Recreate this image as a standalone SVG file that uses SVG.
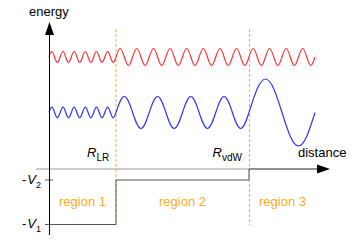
<svg xmlns="http://www.w3.org/2000/svg" width="360" height="252" viewBox="0 0 360 252">
<style>
text{font-family:"Liberation Sans",Arial,sans-serif;font-size:13px;fill:#000}
.reg{fill:#ffaa22;text-anchor:middle}
.it{font-style:italic}
.wave{fill:none;stroke-width:1.2}
.dash{stroke:#ffaa33;stroke-width:1;stroke-dasharray:3,2;fill:none}
</style>
<rect width="360" height="252" fill="#fff"/>
<g id="boundaries">
<line class="dash" x1="116" y1="29" x2="116" y2="225"/>
<line class="dash" x1="249.5" y1="29" x2="249.5" y2="225"/>
</g>
<g id="red-wave">
<path class="wave" stroke="#ff3333" d="M49,57
c.91,-2.82 1.78,-5.5 2.792,-5.5 c1.01,0 1.88,2.68 2.792,5.5 c.91,2.82 1.78,5.5 2.792,5.5 c1.01,0 1.88,-2.68 2.792,-5.5
c.91,-2.82 1.78,-5.5 2.792,-5.5 c1.01,0 1.88,2.68 2.792,5.5 c.91,2.82 1.78,5.5 2.792,5.5 c1.01,0 1.88,-2.68 2.792,-5.5
c.91,-2.82 1.78,-5.5 2.792,-5.5 c1.01,0 1.88,2.68 2.792,5.5 c.91,2.82 1.78,5.5 2.792,5.5 c1.01,0 1.88,-2.68 2.792,-5.5
c.91,-2.82 1.78,-5.5 2.792,-5.5 c1.01,0 1.88,2.68 2.792,5.5 c.91,2.82 1.78,5.5 2.792,5.5 c1.01,0 1.88,-2.68 2.792,-5.5
c.91,-2.82 1.78,-5.5 2.792,-5.5 c1.01,0 1.88,2.68 2.792,5.5 c.91,2.82 1.78,5.5 2.792,5.5 c1.01,0 1.88,-2.68 2.792,-5.5
c.91,-2.82 1.78,-5.5 2.792,-5.5 c1.01,0 1.88,2.68 2.792,5.5 c.91,2.82 1.78,5.5 2.792,5.5 c1.01,0 1.88,-2.68 2.792,-5.5
M116,57
c1.355,-4.355 2.652,-8.5 4.156,-8.5 c1.504,0 2.801,4.145 4.156,8.5 c1.355,4.355 2.652,8.5 4.156,8.5 c1.504,0 2.801,-4.145 4.156,-8.5
c1.355,-4.355 2.652,-8.5 4.156,-8.5 c1.504,0 2.801,4.145 4.156,8.5 c1.355,4.355 2.652,8.5 4.156,8.5 c1.504,0 2.801,-4.145 4.156,-8.5
c1.355,-4.355 2.652,-8.5 4.156,-8.5 c1.504,0 2.801,4.145 4.156,8.5 c1.355,4.355 2.652,8.5 4.156,8.5 c1.504,0 2.801,-4.145 4.156,-8.5
c1.355,-4.355 2.652,-8.5 4.156,-8.5 c1.504,0 2.801,4.145 4.156,8.5 c1.355,4.355 2.652,8.5 4.156,8.5 c1.504,0 2.801,-4.145 4.156,-8.5
c1.355,-4.355 2.652,-8.5 4.156,-8.5 c1.504,0 2.801,4.145 4.156,8.5 c1.355,4.355 2.652,8.5 4.156,8.5 c1.504,0 2.801,-4.145 4.156,-8.5
c1.355,-4.355 2.652,-8.5 4.156,-8.5 c1.504,0 2.801,4.145 4.156,8.5 c1.355,4.355 2.652,8.5 4.156,8.5 c1.504,0 2.801,-4.145 4.156,-8.5
c1.355,-4.355 2.652,-8.5 4.156,-8.5 c1.504,0 2.801,4.145 4.156,8.5 c1.355,4.355 2.652,8.5 4.156,8.5 c1.504,0 2.801,-4.145 4.156,-8.5
c1.355,-4.355 2.652,-8.5 4.156,-8.5 c1.504,0 2.801,4.145 4.156,8.5 c1.355,4.355 2.652,8.5 4.156,8.5 c1.504,0 2.801,-4.145 4.156,-8.5
M249,57
c1.345,-4.355 2.632,-8.5 4.125,-8.5 c1.493,0 2.78,4.145 4.125,8.5 c1.345,4.355 2.632,8.5 4.125,8.5 c1.493,0 2.78,-4.145 4.125,-8.5
c1.345,-4.355 2.632,-8.5 4.125,-8.5 c1.493,0 2.78,4.145 4.125,8.5 c1.345,4.355 2.632,8.5 4.125,8.5 c1.493,0 2.78,-4.145 4.125,-8.5
c1.345,-4.355 2.632,-8.5 4.125,-8.5 c1.493,0 2.78,4.145 4.125,8.5 c1.345,4.355 2.632,8.5 4.125,8.5 c1.493,0 2.78,-4.145 4.125,-8.5
c1.345,-4.355 2.632,-8.5 4.125,-8.5 c1.493,0 2.78,4.145 4.125,8.5 c1.345,4.355 2.632,8.5 4.125,8.5 c1.493,0 2.78,-4.145 4.125,-8.5"/>
</g>
<g id="blue-wave">
<path class="wave" stroke="#3333ff" d="M49,112.5
c.91,-2.715 1.782,-5.3 2.792,-5.3 c1.01,0 1.881,2.585 2.792,5.3 c.91,2.715 1.782,5.3 2.792,5.3 c1.01,0 1.881,-2.585 2.792,-5.3
c.91,-2.715 1.782,-5.3 2.792,-5.3 c1.01,0 1.881,2.585 2.792,5.3 c.91,2.715 1.782,5.3 2.792,5.3 c1.01,0 1.881,-2.585 2.792,-5.3
c.91,-2.715 1.782,-5.3 2.792,-5.3 c1.01,0 1.881,2.585 2.792,5.3 c.91,2.715 1.782,5.3 2.792,5.3 c1.01,0 1.881,-2.585 2.792,-5.3
c.91,-2.715 1.782,-5.3 2.792,-5.3 c1.01,0 1.881,2.585 2.792,5.3 c.91,2.715 1.782,5.3 2.792,5.3 c1.01,0 1.881,-2.585 2.792,-5.3
c.91,-2.715 1.782,-5.3 2.792,-5.3 c1.01,0 1.881,2.585 2.792,5.3 c.91,2.715 1.782,5.3 2.792,5.3 c1.01,0 1.881,-2.585 2.792,-5.3
c.91,-2.715 1.782,-5.3 2.792,-5.3 c1.01,0 1.881,2.585 2.792,5.3 c.91,2.715 1.782,5.3 2.792,5.3 c1.01,0 1.881,-2.585 2.792,-5.3
M116,112.5
c2.711,-8.197 5.304,-16 8.3125,-16 c3.008,0 5.602,7.803 8.3125,16 c2.711,8.197 5.304,16 8.3125,16 c3.008,0 5.602,-7.803 8.3125,-16
c2.711,-8.197 5.304,-16 8.3125,-16 c3.008,0 5.602,7.803 8.3125,16 c2.711,8.197 5.304,16 8.3125,16 c3.008,0 5.602,-7.803 8.3125,-16
c2.711,-8.197 5.304,-16 8.3125,-16 c3.008,0 5.602,7.803 8.3125,16 c2.711,8.197 5.304,16 8.3125,16 c3.008,0 5.602,-7.803 8.3125,-16
c2.711,-8.197 5.304,-16 8.3125,-16 c3.008,0 5.602,7.803 8.3125,16 c2.711,8.197 5.304,16 8.3125,16 c3.008,0 5.602,-7.803 8.3125,-16
M249,112.5
c5.381,-17.162 10.529,-33.5 16.5,-33.5 c5.971,0 11.119,16.338 16.5,33.5 c5.381,17.162 10.529,33.5 16.5,33.5 c5.971,0 11.119,-16.338 16.5,-33.5"/>
</g>
<g id="axes">
<line x1="36" y1="169" x2="318" y2="169" stroke="#999" stroke-width="1"/>
<path d="M45,224.5H116V180H249V169H318" fill="none" stroke="#555" stroke-width="1"/>
<line x1="45" y1="180" x2="53" y2="180" stroke="#555" stroke-width="1"/>
<line x1="49.5" y1="235" x2="49.5" y2="34" stroke="#000" stroke-width="1"/>
<polygon points="49.5,22 45,35 54,35" fill="#000"/>
<polygon points="330,169 317,164.5 317,173.5" fill="#000"/>
</g>
<g id="labels">
<text x="29" y="16">energy</text>
<text x="298" y="156.5">distance</text>
<text x="87" y="157"><tspan class="it">R</tspan><tspan font-size="10" dy="4">LR</tspan></text>
<text x="212.5" y="157"><tspan class="it">R</tspan><tspan font-size="10" dy="4">vdW</tspan></text>
<text x="22" y="184" font-size="12">-<tspan class="it" dx="1">V</tspan><tspan font-size="9" dy="3.5">2</tspan></text>
<text x="22" y="228" font-size="12">-<tspan class="it" dx="1">V</tspan><tspan font-size="9" dy="3.5">1</tspan></text>
</g>
<g id="regions">
<text class="reg" x="82.5" y="206">region 1</text>
<text class="reg" x="182.5" y="206">region 2</text>
<text class="reg" x="282.5" y="206">region 3</text>
</g>
</svg>
